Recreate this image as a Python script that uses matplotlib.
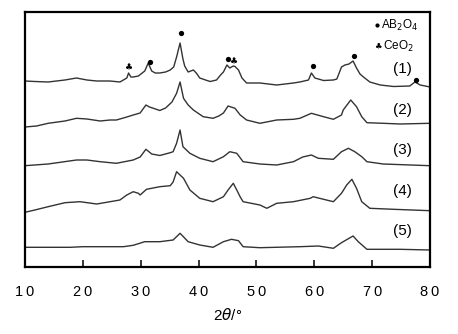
import numpy as np
import matplotlib
matplotlib.use('Agg')
import matplotlib.pyplot as plt

# XRD patterns, intensities in arbitrary (offset) units
tt1 = [10.0, 11.7, 14.0, 16.9, 18.9, 20.7, 22.4, 24.7, 26.4, 27.6, 27.9, 28.3, 28.7, 29.6, 30.7,
       31.3, 31.9, 32.5, 33.3, 34.3, 35.1, 35.7, 36.2, 36.8, 37.3, 37.6, 38.2, 39.1, 39.6, 40.2,
       41.2, 42.0, 43.1, 43.8, 44.3, 44.9, 45.4, 46.0, 46.3, 46.9, 47.5, 48.3, 50.6, 53.5, 56.4,
       57.5, 59.0, 59.5, 60.1, 61.6, 63.3, 63.9, 64.7, 65.3, 66.0, 66.7, 67.3, 67.9, 68.5, 69.6,
       71.4, 73.7, 76.5, 77.4, 78.3, 80.0]
i1 = [186, 185.5, 185, 187, 189, 187, 186, 186, 185, 189, 194, 190, 190, 191, 196,
      204, 196, 194, 194, 195, 197, 200, 210, 224, 208, 201, 195, 197, 194, 189,
      187, 185.5, 187, 192, 195, 202, 199, 201, 200.5, 197, 189, 184, 184, 182, 184,
      185, 187, 194, 189, 186.5, 187, 188, 200, 202, 203, 206, 199, 193, 190, 185,
      182, 180.5, 181, 185, 182, 180]

tt2 = [10.0, 12.0, 14.0, 16.9, 18.9, 20.7, 23.0, 24.7, 25.8, 27.6, 28.7, 29.9, 30.9, 31.5, 32.2,
       33.3, 34.3, 35.4, 36.2, 36.8, 37.4, 38.2, 39.1, 40.8, 42.5, 43.5, 44.3, 45.1, 46.3, 47.2,
       48.3, 50.6, 53.5, 56.4, 57.5, 59.5, 61.6, 63.3, 64.7, 65.0, 66.3, 67.3, 68.2, 69.1, 71.9,
       74.8, 80.0]
i2 = [140, 141, 143.7, 146, 148.7, 148, 146, 147, 147, 150, 152, 154, 162, 160, 158.7,
      156.5, 159, 165, 173.7, 185, 168.7, 162, 157, 150.3, 148.7, 151, 154, 161, 158.7, 152,
      147, 143.7, 147, 147.7, 148.7, 153.7, 150.3, 147.7, 152, 157, 167, 160.3, 150.3, 144.3, 143.7,
      143, 143.7]

tt3 = [10.0, 14.0, 18.9, 20.7, 23.0, 25.8, 28.7, 29.9, 30.9, 31.9, 33.3, 35.1, 35.6, 36.2, 36.8,
       37.3, 38.5, 40.2, 42.5, 44.3, 45.4, 46.6, 47.7, 50.6, 53.5, 56.4, 58.0, 59.5, 60.7, 63.3,
       64.7, 65.9, 67.0, 68.2, 69.1, 71.9, 80.0]
i3 = [101.3, 103, 107, 107, 105.3, 103.7, 107, 110, 117.7, 113, 111.5, 114.3, 115.3, 123.7, 137,
      120.3, 113.7, 108.7, 105.3, 110.3, 115.3, 113.7, 105.3, 103, 102, 105.3, 110, 112, 108.7, 107.7,
      115.3, 118.7, 115.3, 110.3, 105.3, 103, 101.3]

tt4 = [10.0, 11.7, 14.0, 16.9, 19.5, 22.4, 24.7, 26.4, 27.6, 28.7, 29.6, 29.9, 31.0, 33.3, 35.1,
       35.6, 36.2, 37.4, 38.5, 40.2, 42.5, 44.3, 45.1, 46.0, 46.6, 47.2, 47.7, 50.6, 51.8, 53.5,
       56.4, 59.3, 59.8, 62.1, 63.3, 64.7, 65.6, 66.5, 67.3, 68.2, 69.6, 73.7, 80.0]
i4 = [54.7, 57, 60.3, 64.3, 65.3, 63, 65.3, 67, 72, 75.3, 73.7, 72, 77.7, 80.3, 81.3,
      85, 95.3, 88.7, 77, 68.7, 65.3, 70.3, 77, 83.7, 77, 70, 65.3, 62, 58.7, 63.7,
      65.3, 68.7, 70.3, 67, 65.3, 73.7, 82, 87.7, 78.7, 65.3, 58.7, 57.7, 56.3]

tt5 = [10.0, 17.8, 20.0, 27.0, 28.7, 30.7, 33.3, 35.6, 36.8, 38.2, 40.2, 42.5, 44.3, 45.7, 46.9,
       47.7, 50.6, 57.5, 60.7, 63.3, 64.7, 66.7, 67.6, 69.1, 74.8, 80.0]
i5 = [19.7, 19.7, 20.3, 20.3, 21.7, 25.3, 25.3, 27, 33.7, 25.3, 22, 19.7, 25.3, 27.7, 26.3,
      20.3, 19.3, 20.3, 21, 18.7, 24.3, 31, 25.3, 17.7, 17.7, 17]

curve_names = ['(1)', '(2)', '(3)', '(4)', '(5)']
name_y = [197.7, 157, 117, 76.3, 36.3]

# phase markers on pattern (1)
spinel_tt = [31.6, 36.9, 45.1, 59.7, 66.9, 77.6]
spinel_i = [205.3, 234.3, 207.7, 201, 211, 187]
ceria_tt = [27.9, 46.1]
ceria_i = [199.7, 205.3]

xticks = [10, 20, 30, 40, 50, 60, 70, 80]

fig = plt.figure(figsize=(4.58, 3.34), dpi=100)
ax = fig.add_axes([25 / 458, 1 - 267 / 334, 405 / 458, 255 / 334])

for tt, inten in zip([tt1, tt2, tt3, tt4, tt5], [i1, i2, i3, i4, i5]):
    ax.plot(tt, inten, color='#333333', linewidth=1.0)

ax.plot(spinel_tt, spinel_i, 'o', color='black', markersize=3.8, markeredgewidth=0)
for x, y in zip(ceria_tt, ceria_i):
    ax.text(x, y, '\u2663', ha='center', va='center', fontsize=6.5,
            family=['DejaVu Sans'])

for name, y in zip(curve_names, name_y):
    ax.text(75.2, y, name, ha='center', va='center', fontsize=11,
            family=['Liberation Sans', 'DejaVu Sans'])

# phase key
ax.plot([70.9], [242], 'o', color='black', markersize=3, markeredgewidth=0)
ax.text(71.5, 242, r'AB$_{2}$O$_{4}$', ha='left', va='center', fontsize=8.5,
        family=['Liberation Sans', 'DejaVu Sans'])
ax.text(71.0, 221, '\u2663', ha='center', va='center', fontsize=6,
        family=['DejaVu Sans'])
ax.text(71.8, 221, r'CeO$_{2}$', ha='left', va='center', fontsize=8.5,
        family=['Liberation Sans', 'DejaVu Sans'])

ax.set_xlim(10, 80)
ax.set_ylim(0, 255)
ax.set_yticks([])
ax.set_xticks(xticks)
ax.set_xticklabels(['\u2009'.join(str(t)) for t in xticks],
                   family=['Liberation Sans', 'DejaVu Sans'], fontsize=10.5)
ax.tick_params(axis='x', direction='in', length=5, width=1.1, pad=13)
ax.set_xlabel('2$\\mathit{\\theta}$/\u00b0', fontsize=11, labelpad=6,
              family=['Liberation Sans', 'DejaVu Sans'])

for sp in ax.spines.values():
    sp.set_linewidth(1.6)

plt.savefig('out.png', dpi=100)
plt.close(fig)
